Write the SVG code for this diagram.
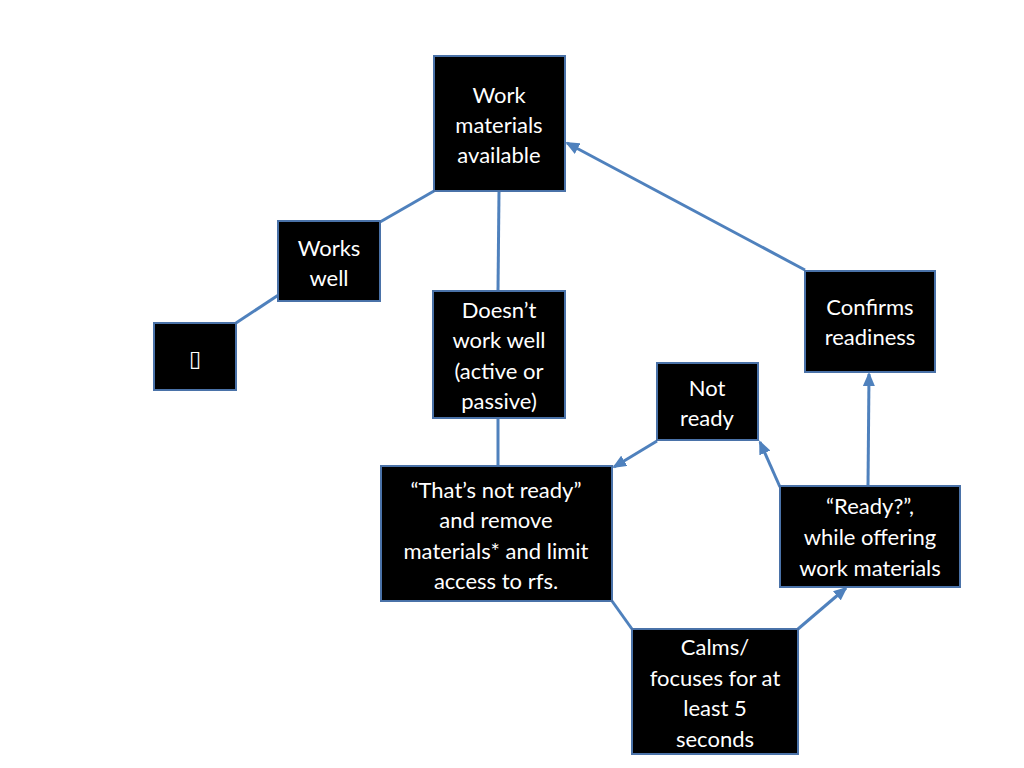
<svg xmlns="http://www.w3.org/2000/svg" width="1024" height="768" viewBox="0 0 1024 768">
<style>
.n rect{fill:#000;stroke:#4a72a8;stroke-width:2}
.n text{fill:#fff;font-family:Lato,"Open Sans",sans-serif;font-size:22px;text-anchor:middle}
.c line{stroke:#4f81bd;stroke-width:3}
</style>
<defs><marker id="a" markerWidth="8" markerHeight="8" refX="6" refY="4" orient="auto" markerUnits="userSpaceOnUse" viewBox="0 0 8 8"><path d="M0,0 L8,4 L0,8 Z" fill="#4f81bd" transform="scale(1)"/></marker>
<marker id="b" markerWidth="14" markerHeight="12" refX="12" refY="6" orient="auto" markerUnits="userSpaceOnUse"><path d="M0,0 L14,6 L0,12 Z" fill="#4f81bd"/></marker></defs>
<rect width="1024" height="768" fill="#fff"/>
<g class="c">
<line x1="380" y1="222" x2="434" y2="191"/>
<line x1="236" y1="323" x2="283" y2="292"/>
<line x1="499" y1="191" x2="498" y2="291"/>
<line x1="498" y1="418" x2="498" y2="466"/>
<line x1="612" y1="601" x2="632" y2="629"/>
<line x1="805" y1="270" x2="567" y2="143" marker-end="url(#b)"/>
<line x1="868" y1="486" x2="869" y2="374" marker-end="url(#b)"/>
<line x1="780" y1="487" x2="760" y2="442" marker-end="url(#b)"/>
<line x1="657" y1="441" x2="614" y2="467" marker-end="url(#b)"/>
<line x1="798" y1="629" x2="846" y2="588" marker-end="url(#b)"/>
</g>
<g id="n1" class="n"><rect x="434" y="56" width="131" height="135"/><text x="499" y="103">Work</text><text x="499" y="133">materials</text><text x="499" y="163">available</text></g>
<g id="n2" class="n"><rect x="278" y="221" width="102" height="80"/><text x="329" y="256">Works</text><text x="329" y="286">well</text></g>
<g id="n3" class="n"><rect x="154" y="323" width="82" height="67"/><text x="195" y="366" style="font-family:'DejaVu Sans',sans-serif">▯</text></g>
<g id="n4" class="n"><rect x="433" y="291" width="132" height="127"/><text x="499" y="318">Doesn’t</text><text x="499" y="348">work well</text><text x="499" y="379">(active or</text><text x="499" y="409">passive)</text></g>
<g id="n5" class="n"><rect x="805" y="271" width="130" height="101"/><text x="870" y="315">Confirms</text><text x="870" y="345">readiness</text></g>
<g id="n6" class="n"><rect x="657" y="363" width="101" height="77"/><text x="707" y="396">Not</text><text x="707" y="426">ready</text></g>
<g id="n7" class="n"><rect x="381" y="466" width="231" height="135"/><text x="496" y="498">“That’s not ready”</text><text x="496" y="528">and remove</text><text x="496" y="559">materials* and limit</text><text x="496" y="589">access to rfs.</text></g>
<g id="n8" class="n"><rect x="780" y="486" width="180" height="101"/><text x="870" y="514">“Ready?”,</text><text x="870" y="545">while offering</text><text x="870" y="576">work materials</text></g>
<g id="n9" class="n"><rect x="632" y="629" width="166" height="125"/><text x="715" y="655">Calms/</text><text x="715" y="686">focuses for at</text><text x="715" y="716">least 5</text><text x="715" y="747">seconds</text></g>
</svg>
